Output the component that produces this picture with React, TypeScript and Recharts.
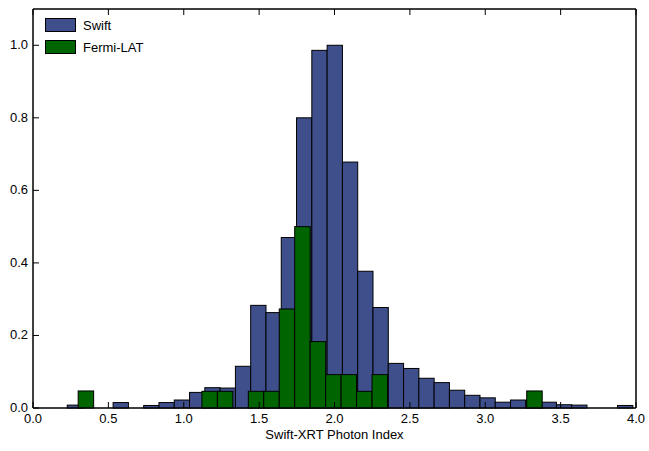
import React from "react";
import { ComposedChart, Bar, XAxis, YAxis, ReferenceArea } from "recharts";

const swiftStart = 0.278;
const swiftStep = 0.1014;
const swiftValues = [0.008,0,0,0.015,0,0.007,0.015,0.022,0.043,0.056,0.055,0.115,0.283,0.263,0.47,0.8,0.986,1.0,0.678,0.377,0.277,0.123,0.109,0.082,0.07,0.049,0.035,0.028,0.016,0.022,0.02,0.016,0.009,0.008,0,0,0.007];
const fermiStart = 0.351;
const fermiStep = 0.1026;
const fermiValues = [0.047,0,0,0,0,0,0,0,0.046,0.046,0,0.046,0.046,0.273,0.5,0.183,0.092,0.092,0.046,0.092,0,0,0,0,0,0,0,0,0,0.047];
const xTicks = [0,0.5,1,1.5,2,2.5,3,3.5,4];
const yTicks = [0,0.2,0.4,0.6,0.8,1.0];
const xDomain: [number, number] = [0, 4];
const yDomain: [number, number] = [0, 1.1];

const data = [
  ...swiftValues.map((v, i) => ({ x: +(swiftStart + i * swiftStep).toFixed(4), swift: v })),
  ...fermiValues.map((v, i) => ({ x: +(fermiStart + i * fermiStep).toFixed(4), fermi: v })),
];

const FONT = "Liberation Sans, Arial, sans-serif";
const W = 649, H = 451, M = { top: 8, right: 12, bottom: 0, left: 0 }, YW = 33;
const plotW = W - M.left - M.right - YW;
const pxPerUnit = plotW / (xDomain[1] - xDomain[0]);

const makeShape = (step: number) => (p: any) => {
  if (!p.height || p.height <= 0) return <g />;
  const cx = p.x + p.width / 2;
  const w = step * pxPerUnit;
  return <rect x={cx - w / 2} y={p.y} width={w} height={p.height} fill={p.fill} stroke="#000" strokeWidth={1} />;
};

const BottomTick = (p: any) => (
  <g>
    <line x1={p.x} x2={p.x} y1={p.y} y2={p.y - 6} stroke="#000" />
    <text x={p.x} y={p.y + 15} textAnchor="middle" fontSize={13} fontFamily={FONT} fill="#000">{p.payload.value.toFixed(1)}</text>
  </g>
);
const TopTick = (p: any) => <line x1={p.x} x2={p.x} y1={p.y} y2={p.y + 6} stroke="#000" />;
const LeftTick = (p: any) => (
  <g>
    <line x1={p.x} x2={p.x + 6} y1={p.y} y2={p.y} stroke="#000" />
    <text x={p.x - 5} y={p.y + 4} textAnchor="end" fontSize={13} fontFamily={FONT} fill="#000">{p.payload.value.toFixed(1)}</text>
  </g>
);
const RightTick = (p: any) => <line x1={p.x} x2={p.x - 6} y1={p.y} y2={p.y} stroke="#000" />;

const legendItems = [["Swift", "#3f4f8c"], ["Fermi-LAT", "#006400"]];

export default function App() {
  return (
    <div style={{ position: "fixed", left: 0, top: 0, background: "#fff", width: W, height: H }}>
      <ComposedChart width={W} height={H} data={data} margin={M} barGap={0} style={{ overflow: "visible" }}>
        <XAxis xAxisId="b" dataKey="x" type="number" domain={xDomain} ticks={xTicks} tick={<BottomTick />} tickLine={false} tickSize={0} tickMargin={0} height={43} stroke="#000" interval={0}
          label={{ value: "Swift-XRT Photon Index", position: "insideBottom", offset: 12, fontSize: 13, fontFamily: FONT, fill: "#000" }} />
        <XAxis xAxisId="t" orientation="top" dataKey="x" type="number" domain={xDomain} ticks={xTicks} tick={<TopTick />} tickLine={false} tickSize={0} tickMargin={0} height={1} stroke="#000" interval={0} />
        <YAxis yAxisId="l" domain={yDomain} ticks={yTicks} tick={<LeftTick />} tickLine={false} tickSize={0} tickMargin={0} width={YW} stroke="#000" interval={0} />
        <YAxis yAxisId="r" orientation="right" domain={yDomain} ticks={yTicks} tick={<RightTick />} tickLine={false} tickSize={0} tickMargin={0} width={1} stroke="#000" interval={0} />
        <Bar xAxisId="b" yAxisId="l" dataKey="swift" fill="#3f4f8c" shape={makeShape(swiftStep)} isAnimationActive={false} />
        <Bar xAxisId="t" yAxisId="l" dataKey="fermi" fill="#006400" shape={makeShape(fermiStep)} isAnimationActive={false} />
        <ReferenceArea xAxisId="b" yAxisId="l" x1={xDomain[0]} x2={xDomain[1]} y1={yDomain[0]} y2={yDomain[1]} fill="none" fillOpacity={0} stroke="#000" strokeWidth={1} ifOverflow="visible" />
      </ComposedChart>
      <div style={{ position: "absolute", left: 45, top: 14, fontFamily: FONT, fontSize: 13 }}>
        {legendItems.map(([n, c]) => (
          <div key={n} style={{ display: "flex", alignItems: "center", height: 22 }}>
            <div style={{ width: 29, height: 12, background: c, border: "1px solid #000", marginRight: 7 }} />
            <span>{n}</span>
          </div>
        ))}
      </div>
    </div>
  );
}
